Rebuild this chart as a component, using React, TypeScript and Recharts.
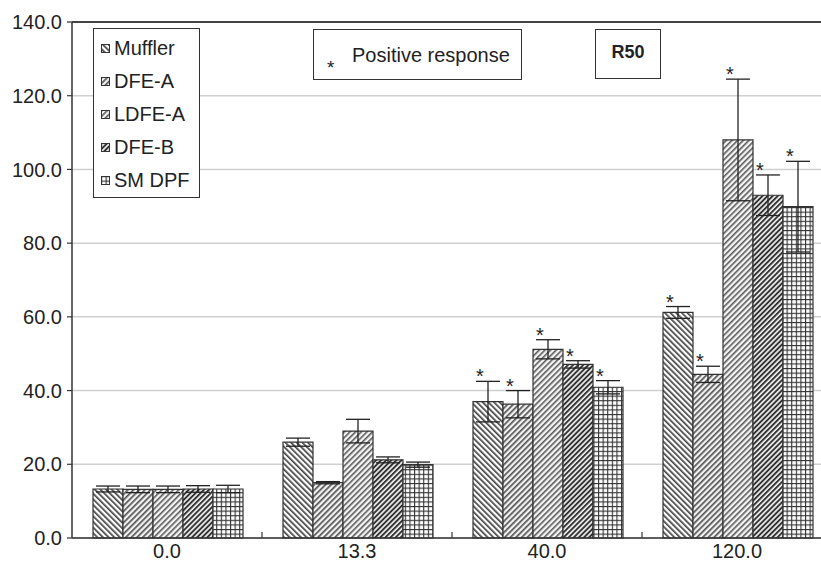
import React from "react";
import {
  BarChart,
  Bar,
  XAxis,
  YAxis,
  CartesianGrid,
  ErrorBar,
  LabelList,
  Legend,
  ReferenceLine,
} from "recharts";

// dose groups (x categories)
const doses = ["0.0", "13.3", "40.0", "120.0"];

// series means and error bar half-widths
const muffler = [13.3, 26.0, 37.0, 61.2];
const mufflerErr = [0.8, 1.1, 5.5, 1.6];
const dfeA = [13.2, 15.0, 36.3, 44.4];
const dfeAErr = [0.9, 0.3, 3.7, 2.2];
const ldfeA = [13.2, 29.0, 51.2, 108.0];
const ldfeAErr = [0.9, 3.2, 2.6, 16.5];
const dfeB = [13.3, 21.2, 47.1, 93.0];
const dfeBErr = [0.9, 0.8, 1.0, 5.5];
const smDpf = [13.3, 19.9, 40.9, 89.9];
const smDpfErr = [1.0, 0.7, 1.8, 12.3];

// positive response flag per dose group (asterisks)
const positive = [false, false, true, true];

const yTicks = [0, 20, 40, 60, 80, 100, 120, 140];

const FONT = "'Liberation Sans', Arial, Helvetica, sans-serif";
const INK = "#222";
const X_TICK_MARGIN = 6;

const series = [
  { key: "muffler", name: "Muffler", vals: muffler, errs: mufflerErr, fill: "url(#pMuffler)" },
  { key: "dfeA", name: "DFE-A", vals: dfeA, errs: dfeAErr, fill: "url(#pDfeA)" },
  { key: "ldfeA", name: "LDFE-A", vals: ldfeA, errs: ldfeAErr, fill: "url(#pLdfeA)" },
  { key: "dfeB", name: "DFE-B", vals: dfeB, errs: dfeBErr, fill: "url(#pDfeB)" },
  { key: "smDpf", name: "SM DPF", vals: smDpf, errs: smDpfErr, fill: "url(#pSmDpf)" },
];

const rows = doses.map((dose, i) => {
  const row: Record<string, string | number> = { dose };
  series.forEach((s) => {
    row[s.key] = s.vals[i];
    row[s.key + "Err"] = s.errs[i];
  });
  return row;
});

// asterisk placed just above the top of the error bar
const starLabel = (vals: number[], errs: number[]) => (props: any) => {
  const vb = props.viewBox ?? props;
  const idx = props.index;
  if (idx == null || !positive[idx]) return null;
  const { x, y, width, height } = vb;
  const ppu = height / vals[idx];
  const top = y - errs[idx] * ppu;
  return (
    <text
      x={x + width / 2 - 8}
      y={top + 2}
      textAnchor="middle"
      fontSize={20}
      fontFamily={FONT}
      fill={INK}
    >
      *
    </text>
  );
};

// category label plus a short inward tick at the left edge of each group band
function DoseTick(props: any) {
  const { x, y, payload, index } = props;
  const axisY = y - X_TICK_MARGIN;
  const edge = x - (payload?.offset ?? 0);
  return (
    <g>
      {index > 0 && (
        <line x1={edge} x2={edge} y1={axisY} y2={axisY - 6} stroke="#333" strokeWidth={1.2} />
      )}
      <text
        x={x}
        y={y}
        dy="0.71em"
        textAnchor="middle"
        fontSize={20}
        fontFamily={FONT}
        fill={INK}
      >
        {payload.value}
      </text>
    </g>
  );
}

function LegendBox() {
  return (
    <div
      style={{
        width: 107,
        height: 170,
        border: "1.5px solid #333",
        background: "#fff",
        fontFamily: FONT,
        fontSize: 20,
        color: INK,
        boxSizing: "border-box",
        paddingTop: 3,
      }}
    >
      {series.map((s) => (
        <div
          key={s.key}
          style={{ display: "flex", alignItems: "center", height: 33, paddingLeft: 7 }}
        >
          <svg width={10} height={10} style={{ marginRight: 3 }}>
            <rect x={0.5} y={0.5} width={8} height={8} fill={s.fill} stroke="#333" strokeWidth={1} />
          </svg>
          <span>{s.name}</span>
        </div>
      ))}
    </div>
  );
}

export default function App() {
  return (
    <div
      style={{
        position: "absolute",
        left: 0,
        top: 0,
        width: 821,
        height: 565,
        overflow: "hidden",
        background: "#fff",
      }}
    >
      <BarChart
        width={840}
        height={565}
        data={rows}
        margin={{ top: 22, right: 8, bottom: 0, left: 0 }}
        barCategoryGap={21}
        barGap={0}
      >
        <defs>
          <pattern id="pMuffler" patternUnits="userSpaceOnUse" width={4} height={4} patternTransform="rotate(-45)">
            <rect width={4} height={4} fill="#fff" />
            <rect width={1.7} height={4} fill="#444" />
          </pattern>
          <pattern id="pDfeA" patternUnits="userSpaceOnUse" width={4} height={4} patternTransform="rotate(45)">
            <rect width={4} height={4} fill="#f2f2f2" />
            <rect width={1.7} height={4} fill="#555" />
          </pattern>
          <pattern id="pLdfeA" patternUnits="userSpaceOnUse" width={4} height={4} patternTransform="rotate(45)">
            <rect width={4} height={4} fill="#f4f4f4" />
            <rect width={1.6} height={4} fill="#5a5a5a" />
          </pattern>
          <pattern id="pDfeB" patternUnits="userSpaceOnUse" width={3.6} height={3.6} patternTransform="rotate(45)">
            <rect width={3.6} height={3.6} fill="#eee" />
            <rect width={1.9} height={3.6} fill="#333" />
          </pattern>
          <pattern id="pSmDpf" patternUnits="userSpaceOnUse" width={4.6} height={4.6}>
            <rect width={4.6} height={4.6} fill="#fff" />
            <rect width={1.1} height={4.6} fill="#333" />
            <rect width={4.6} height={1.1} fill="#333" />
          </pattern>
        </defs>
        <CartesianGrid vertical={false} stroke="#cfcfcf" strokeWidth={1.5} />
        <XAxis
          dataKey="dose"
          height={27}
          tickLine={false}
          tickSize={0}
          tickMargin={X_TICK_MARGIN}
          axisLine={{ stroke: "#333", strokeWidth: 1.5 }}
          tick={<DoseTick />}
        />
        <YAxis
          width={72}
          domain={[0, 140]}
          ticks={yTicks}
          interval={0}
          tickFormatter={(v: number) => v.toFixed(1)}
          tickSize={5}
          tickMargin={5}
          axisLine={{ stroke: "#333", strokeWidth: 1.5 }}
          tickLine={{ stroke: "#333", strokeWidth: 1.2 }}
          tick={{ fontSize: 20, fill: INK, fontFamily: FONT }}
        />
        <ReferenceLine y={140} stroke="#444" strokeWidth={2} />
        <Legend
          layout="vertical"
          align="center"
          verticalAlign="middle"
          wrapperStyle={{ position: "absolute", left: 93, top: 28, width: 107, height: 170 }}
          content={() => <LegendBox />}
        />
        {series.map((s) => (
          <Bar
            key={s.key}
            dataKey={s.key}
            name={s.name}
            fill={s.fill}
            stroke="#333"
            strokeWidth={1.2}
            isAnimationActive={false}
          >
            <ErrorBar
              dataKey={s.key + "Err"}
              width={12}
              stroke={INK}
              strokeWidth={1.3}
              isAnimationActive={false}
            />
            <LabelList dataKey={s.key} content={starLabel(s.vals, s.errs)} />
          </Bar>
        ))}
      </BarChart>
      <div
        style={{
          position: "absolute",
          left: 313,
          top: 29,
          width: 209,
          height: 51,
          border: "1.5px solid #333",
          boxSizing: "border-box",
          fontFamily: FONT,
          color: INK,
          background: "#fff",
        }}
      >
        <span style={{ position: "absolute", left: 13, top: 27, fontSize: 19 }}>*</span>
        <span style={{ position: "absolute", left: 38, top: 14, fontSize: 20 }}>Positive response</span>
      </div>
      <div
        style={{
          position: "absolute",
          left: 595,
          top: 29,
          width: 66,
          height: 50,
          border: "1.5px solid #333",
          boxSizing: "border-box",
          fontFamily: FONT,
          color: INK,
          fontWeight: "bold",
          fontSize: 18,
          display: "flex",
          alignItems: "center",
          justifyContent: "center",
          paddingBottom: 4,
          background: "#fff",
        }}
      >
        R50
      </div>
    </div>
  );
}
